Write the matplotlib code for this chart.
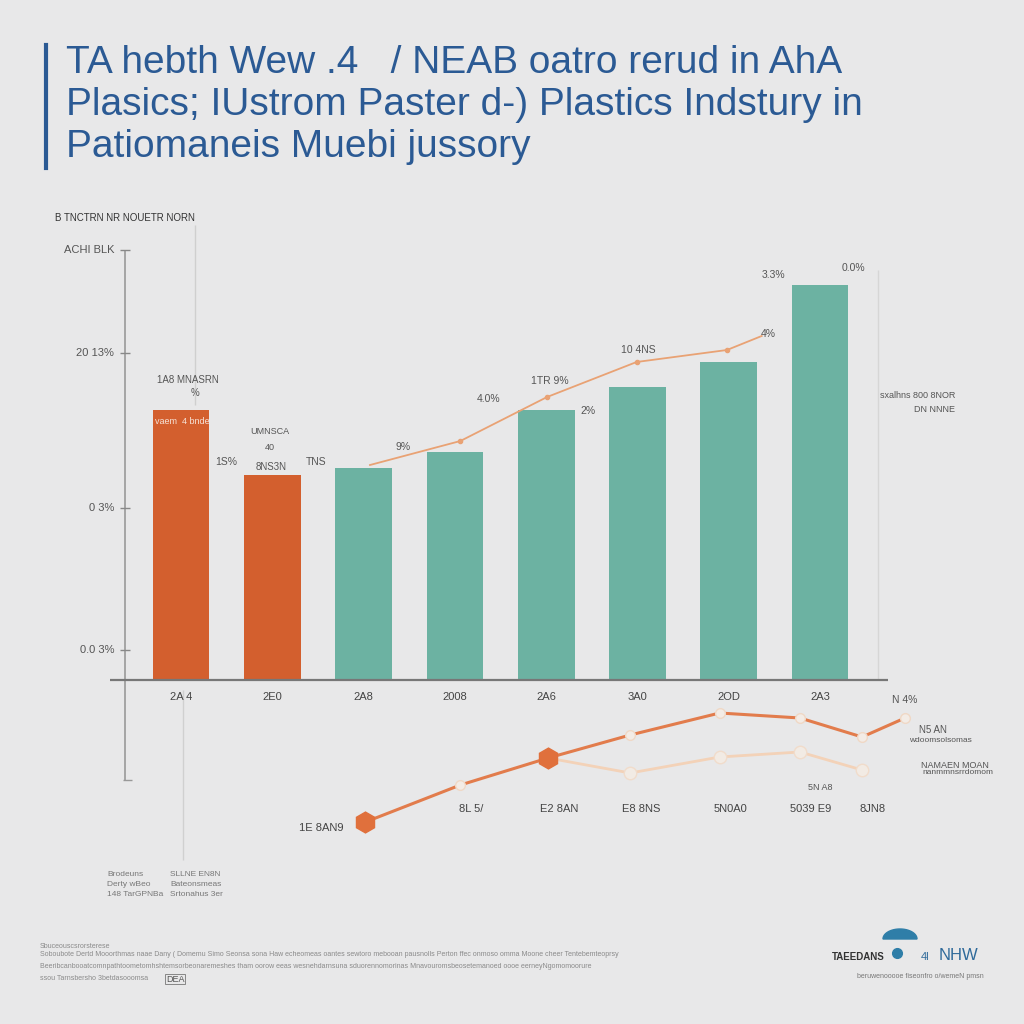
import numpy as np
import matplotlib.pyplot as plt

# =============================================================================
# data
# =============================================================================
bar_labels = ['2A 4', '2E0', '2A8', '2008', '2A6', '3A0', '2OD', '2A3']
bar_values = [27.0, 20.5, 21.2, 22.8, 27.0, 29.3, 31.8, 39.5]
bar_colors = ['#d35f2e', '#d35f2e', '#6cb2a2', '#6cb2a2', '#6cb2a2', '#6cb2a2', '#6cb2a2', '#6cb2a2']

trend_x = [2.07, 3.06, 4.01, 4.99, 5.98, 6.36]
trend_y = [21.5, 23.9, 28.3, 31.8, 33.0, 34.4]

low_x = [2.02, 3.06, 4.02, 4.92, 5.90, 6.78, 7.46, 7.93]
low_y = [-14.2, -10.5, -7.8, -5.5, -3.3, -3.8, -5.7, -3.8]
low2_x = [4.02, 4.92, 5.90, 6.78, 7.46]
low2_y = [-7.8, -9.3, -7.7, -7.2, -9.0]

ytick_vals = [43.0, 32.7, 17.2, 3.0]
ytick_text = ['ACHI BLK', '20 13%', '0 3%', '0.0 3%']

low_labels = ['8L 5/', 'E2 8AN', 'E8 8NS', '5N0A0', '5039 E9', '8JN8']

title_lines = ['TA hebth Wew .4   / NEAB oatro rerud in AhA',
               'Plasics; IUstrom Paster d-) Plastics Indstury in',
               'Patiomaneis Muebi jussory']

# =============================================================================
# figure
# =============================================================================
W = 1024
bg = '#e8e8e9'
blue = '#2b5a94'
grey = '#555555'
plt.rcParams['font.family'] = ['Liberation Sans', 'DejaVu Sans']

fig = plt.figure(figsize=(10.24, 10.24), dpi=100, facecolor=bg)

def fx(x):
    return x / W

def fy(y):
    return 1 - y / W

# title block
fig.add_artist(plt.Line2D([fx(46), fx(46)], [fy(45), fy(168)], color=blue, lw=3))
for i, line in enumerate(title_lines):
    fig.text(fx(66), fy(63 + 42 * i), line, color=blue, fontsize=28,
             va='center', ha='left')

# main axes: pixel x 40..1000, y 200..880 ; bar centres 181 + 91.3*i, 10 px per unit
x0, x1, y0, y1 = 40, 1000, 200, 880
ax = fig.add_axes([fx(x0), fy(y1), fx(x1 - x0), (y1 - y0) / W])
ax.set_facecolor('none')
ax.set_xlim((x0 - 181) / 91.3, (x1 - 181) / 91.3)
ax.set_ylim((680 - y1) / 10, (680 - y0) / 10)
ax.axis('off')

xs = np.arange(len(bar_values))
ax.bar(xs, bar_values, width=0.62, color=bar_colors, zorder=2)

# baseline and left axis
base_l, base_r = (110 - 181) / 91.3, (888 - 181) / 91.3
axis_x = (125 - 181) / 91.3
ax.hlines(0, base_l, base_r, color='#777777', lw=1.6, zorder=3)
ax.vlines(axis_x, -10, 43, color='#999999', lw=1.2, zorder=1)
for v, t in zip(ytick_vals, ytick_text):
    ax.hlines(v, axis_x - 0.05, axis_x + 0.05, color='#888888', lw=1)
    ax.text(axis_x - 0.12, v, t, ha='right', va='center', fontsize=8, color=grey)
ax.hlines(-10, axis_x - 0.02, axis_x + 0.08, color='#999999', lw=1)

# faint guide lines
ax.vlines((195 - 181) / 91.3, 27.5, 45.5, color='#cfcfcf', lw=1, zorder=1)
ax.vlines((878 - 181) / 91.3, 0, 41, color='#d6d6d6', lw=1, zorder=1)
ax.vlines((183 - 181) / 91.3, -18, -1, color='#d0d0d0', lw=1, zorder=1)

for x, t in zip(xs, bar_labels):
    ax.text(x, -1.7, t, ha='center', va='center', fontsize=8, color='#444444')

# trend line over bars
ax.plot(trend_x, trend_y, color='#e9a274', lw=1.3, zorder=4)
ax.plot(trend_x[1:-1], trend_y[1:-1], 'o', ms=3, color='#e9a274', zorder=4)

# lower lines
ax.plot(low2_x, low2_y, color='#f3d2b8', lw=2, zorder=3)
ax.plot(low2_x[1:], low2_y[1:], 'o', ms=9, mfc='#f2ebe4', mec='#f1dccb', zorder=3)
ax.plot(low_x, low_y, color='#e27c4c', lw=2.2, zorder=4)
ax.plot(low_x[1:], low_y[1:], 'o', ms=7, mfc='#f3ece6', mec='#f0d8c6', zorder=4)
ax.plot([low_x[0], low_x[2]], [low_y[0], low_y[2]], 'h', ms=15, color='#e0703c', zorder=5)

for x, t in zip(low_x[1:7], low_labels):
    ax.text(x + 0.12, -12.9, t, ha='center', va='center', fontsize=8, color='#444444')
ax.text(1.78, -14.8, '1E 8AN9', ha='right', va='center', fontsize=8, color='#444444')

# annotations
notes = [
    (188, 380, '1A8 MNASRN', 7), (195, 393, '%', 7),
    (270, 432, 'UMNSCA', 6.5), (270, 447, '40', 6.5), (271, 467, '8NS3N', 7),
    (226, 462, '1S%', 7.5), (316, 462, 'TNS', 7.5), (403, 447, '9%', 7.5),
    (489, 399, '4.0%', 7.5), (550, 381, '1TR 9%', 7.5), (588, 411, '2%', 7.5),
    (638, 350, '10 4NS', 7.5), (768, 334, '4%', 7.5), (773, 275, '3.3%', 7.5),
    (853, 268, '0.0%', 7.5), (918, 396, 'sxalhns 800 8NOR', 6.5), (935, 410, 'DN NNNE', 6.5),
    (905, 700, 'N 4%', 7.5), (933, 730, 'N5 AN', 7), (940, 741, 'wdoomsolsomas', 6),
    (955, 765, 'NAMAEN MOAN', 6.5), (958, 773, 'nanmmnsrrdomom', 6), (820, 787, '5N A8', 6.5),
]
for x, y, t, s in notes:
    fig.text(fx(x), fy(y), t, ha='center', va='center', fontsize=s, color=grey)
fig.text(fx(182), fy(422), 'vaem  4 bnde', ha='center', va='center', fontsize=6.5,
         color='#f6e3d8')
fig.text(fx(55), fy(218), 'B TNCTRN NR NOUETR NORN', ha='left', va='center',
         fontsize=7, color='#333333')

# small legend block bottom-left
for i, (a, b) in enumerate([('Brodeuns', 'SLLNE EN8N'), ('Derty wBeo', 'Bateonsmeas'),
                            ('148 TarGPNBa', 'Srtonahus 3er')]):
    fig.text(fx(107), fy(874 + 10 * i), a, ha='left', va='center', fontsize=6, color='#777777')
    fig.text(fx(170), fy(874 + 10 * i), b, ha='left', va='center', fontsize=6, color='#777777')

# footnotes
fig.text(fx(40), fy(946), 'Sbuceouscsrorsterese', fontsize=5, color='#8a8a8a', va='center')
fig.text(fx(40), fy(955), 'Soboubote Dertd Mooorthmas naae Dany ( Domemu Simo Seonsa sona Haw echeomeas oantes sewtoro mebooan pausnolls Perton ffec onmoso omma Moone cheer Tentebemteoprsy',
         fontsize=5, color='#8a8a8a', va='center')
fig.text(fx(40), fy(966), 'Beeribcanbooatcomnpathtoometomhshtemsorbeonaremeshes tham oorow eeas wesnehdarnsuna sduorennomorinas Mnavouromsbeosetemanoed oooe eerneyNgomomoorure',
         fontsize=5, color='#8a8a8a', va='center')
fig.text(fx(40), fy(979), 'ssou Tarnsbersho 3betdasooomsa', fontsize=5, color='#8a8a8a', va='center')
fig.text(fx(166), fy(979), 'DEA', fontsize=6.5, color='#555555', va='center',
         bbox=dict(boxstyle='square,pad=0.1', fc='none', ec='#777777', lw=0.6))

# logo bottom-right
logo = fig.add_axes([fx(870), fy(965), fx(60), fx(40)])
logo.set_xlim(0, 60)
logo.set_ylim(0, 40)
logo.axis('off')
th = np.linspace(0, np.pi, 60)
logo.fill(30 + 17 * np.cos(th), 26 + 10 * np.sin(th), color='#2f7ea8')
logo.plot([27], [12], 'o', ms=7, color='#2f7ea8')
fig.text(fx(858), fy(957), 'TAEEDANS', ha='center', va='center', fontsize=7,
         color='#333333', fontweight='bold')
fig.text(fx(925), fy(957), '4l', ha='center', va='center', fontsize=8, color='#2f6a9a')
fig.text(fx(958), fy(956), 'NHW', ha='center', va='center', fontsize=12, color='#2f6a9a')
fig.text(fx(920), fy(976), 'beruwenooooe fiseonfro o/wemeN pmsn', ha='center', va='center',
         fontsize=5, color='#777777')

fig.savefig('out.png', dpi=100, facecolor=bg)
